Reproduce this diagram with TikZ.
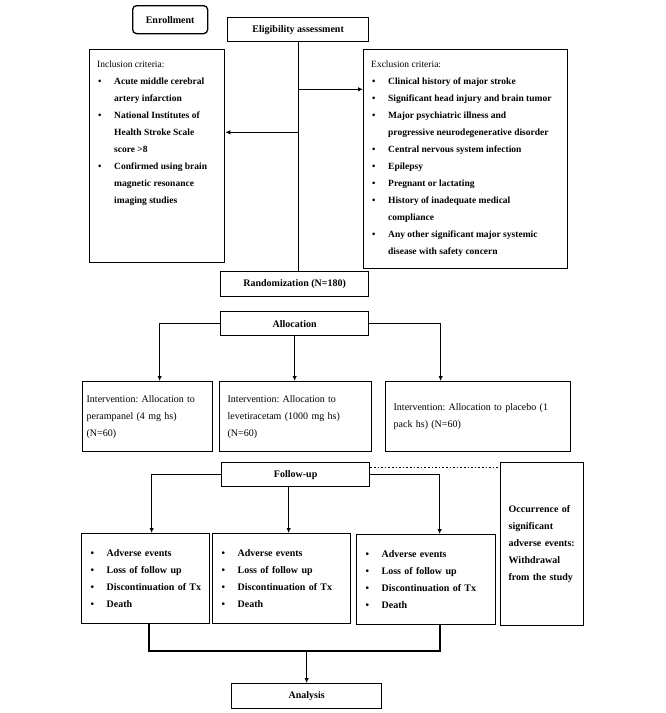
\documentclass[tikz,border=0pt]{standalone}
\usepackage{fontspec}
\setmainfont{Liberation Serif}
\usetikzlibrary{arrows.meta}
\frenchspacing

% bullet and hanging indent for the criteria lists
\newcommand{\bl}{\makebox[17pt][l]{\hspace{1pt}\textbullet}}
\newcommand{\ind}{\hspace*{17pt}}

\begin{document}
\begin{tikzpicture}[x=1pt,y=-1pt,
  box/.style={draw, line width=1.3pt, anchor=north west, inner sep=0pt,
    font=\fontsize{10}{17}\selectfont\bfseries},
  txtbox/.style={box, align=left, inner xsep=6pt, font=\fontsize{10}{17}\selectfont},
  list/.style={anchor=north west, align=left, inner sep=0pt,
    font=\fontsize{9.5}{17}\selectfont},
  link/.style={line width=1.2pt},
  arr/.style={line width=1.2pt, -{Latex[length=5pt,width=4.5pt]}}]

\useasboundingbox (0,0) rectangle (666,713);

% Enrollment and eligibility
\node[box, rounded corners=4pt, minimum width=75pt, minimum height=28pt] (enr) at (132,5) {Enrollment};
\node[box, minimum width=141pt, minimum height=24pt] (elig) at (227,17) {Eligibility assessment};

% Criteria boxes
\node[box, minimum width=135pt, minimum height=213pt] (incl) at (89,49) {};
\node[list] (incltxt) at (97,55) {\strut Inclusion criteria:\\
  \bfseries\bl Acute middle cerebral\\
  \bfseries\ind artery infarction\\
  \bfseries\bl National Institutes of\\
  \bfseries\ind Health Stroke Scale\\
  \bfseries\ind score >8\\
  \bfseries\bl Confirmed using brain\\
  \bfseries\ind magnetic resonance\\
  \bfseries\ind imaging studies};

\node[box, minimum width=204pt, minimum height=219pt] (excl) at (363,49) {};
\node[list] (excltxt) at (371,55) {\strut Exclusion criteria:\\
  \bfseries\bl Clinical history of major stroke\\
  \bfseries\bl Significant head injury and brain tumor\\
  \bfseries\bl Major psychiatric illness and\\
  \bfseries\ind progressive neurodegenerative disorder\\
  \bfseries\bl Central nervous system infection\\
  \bfseries\bl Epilepsy\\
  \bfseries\bl Pregnant or lactating\\
  \bfseries\bl History of inadequate medical\\
  \bfseries\ind compliance\\
  \bfseries\bl Any other significant major systemic\\
  \bfseries\ind disease with safety concern};

% Randomization and allocation
\node[box, minimum width=148pt, minimum height=25pt] (rand) at (220,271) {Randomization (N=180)};
\node[box, minimum width=148pt, minimum height=24pt] (alloc) at (220,311) {Allocation};

% Intervention arms
\node[txtbox, inner xsep=4pt, text width=122pt, minimum width=130pt, minimum height=70pt] (int1) at (82,381)
  {Intervention: Allocation to\\ perampanel (4 mg hs)\\ (N=60)};
\node[txtbox, inner xsep=8pt, text width=136pt, minimum width=152pt, minimum height=70pt] (int2) at (219,381)
  {Intervention: Allocation to\\ levetiracetam (1000 mg hs)\\ (N=60)};
\node[txtbox, inner xsep=8pt, text width=169pt, minimum width=185pt, minimum height=70pt] (int3) at (385,381)
  {Intervention: Allocation to placebo (1\\ pack hs) (N=60)};

% Follow-up
\node[box, minimum width=148pt, minimum height=24pt] (fu) at (221,462) {Follow-up};
\node[box, align=left, inner xsep=8pt, text width=112pt, minimum width=128pt, minimum height=90pt] (out1) at (81,533)
  {\bl Adverse events\\ \bl Loss of follow up\\ \bl Discontinuation of Tx\\ \bl Death};
\node[box, align=left, inner xsep=8pt, text width=122pt, minimum width=138pt, minimum height=90pt] (out2) at (212,533)
  {\bl Adverse events\\ \bl Loss of follow up\\ \bl Discontinuation of Tx\\ \bl Death};
\node[box, align=left, inner xsep=8pt, text width=123pt, minimum width=139pt, minimum height=90pt] (out3) at (356,534)
  {\bl Adverse events\\ \bl Loss of follow up\\ \bl Discontinuation of Tx\\ \bl Death};
\node[box, align=left, inner xsep=8pt, text width=67pt, minimum width=83pt, minimum height=163pt] (wd) at (500,462)
  {Occurrence of\\ significant\\ adverse events:\\ Withdrawal\\ from the study};

% Analysis
\node[box, minimum width=150pt, minimum height=25pt] (ana) at (231,683) {Analysis};

% Eligibility trunk and criteria arrows
\draw[link] (elig.south) -- (elig.south |- rand.north);
\path (elig.south) ++(0,47) coordinate (jex);
\path (elig.south) ++(0,90) coordinate (jin);
\draw[arr] (jex) -- (jex -| excl.west);
\draw[arr] (jin) -- (jin -| incl.east);

% Allocation branches
\draw[arr] (alloc.west) -| ([xshift=12pt]int1.north);
\draw[arr] (alloc.south) -- (alloc.south |- int2.north);
\draw[arr] (alloc.east) -| ([xshift=-37.5pt]int3.north);

% Follow-up branches
\draw[arr] (fu.west) -| ([xshift=6pt]out1.north);
\draw[arr] ([xshift=-7pt]fu.south) -- ([xshift=-7pt]fu.south |- out2.north);
\draw[arr] (fu.east) -| ([xshift=13.5pt]out3.north);
\draw[dotted, line width=1.6pt] ([yshift=7pt]fu.east) -- ([yshift=7pt]fu.east -| wd.west);

% Join to analysis
\coordinate (jl) at (149,651);
\coordinate (jr) at (440,651);
\draw[link] (jl |- out1.south) -- (jl) -- (jr) -- (jr |- out3.south);
\draw[arr] (ana.north |- jl) -- (ana.north);

\end{tikzpicture}
\end{document}
